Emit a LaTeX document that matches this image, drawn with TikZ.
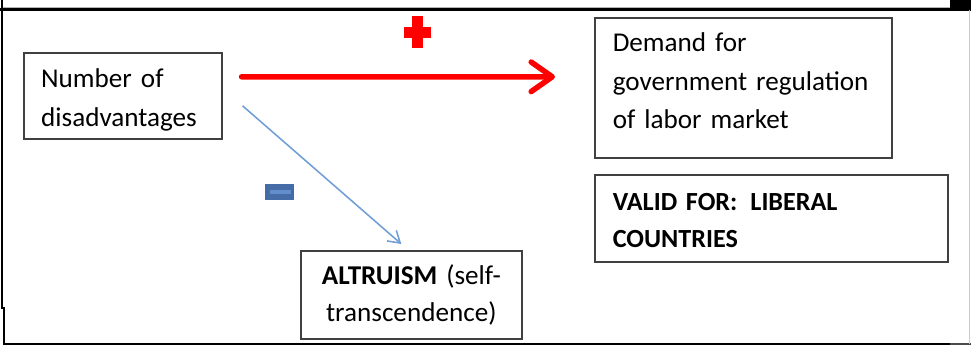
\documentclass[tikz,border=0pt]{standalone}
\usepackage{fontspec}
\setmainfont{Carlito}
\usetikzlibrary{arrows.meta, positioning, calc}
\definecolor{negblue}{RGB}{112,158,214}
\definecolor{minusdark}{RGB}{70,108,168}
\definecolor{minuslight}{RGB}{98,142,208}

\begin{document}
\begin{tikzpicture}[x=0.025cm, y=-0.025cm, font=\fontsize{19.3}{27.2}\selectfont,
  box/.style={draw=black!75, line width=1.1pt, inner ysep=0pt, anchor=north west},
  posarrow/.style={red, line width=3.9pt, line cap=round,
    -{Straight Barb[length=15pt, width=21pt, round]}},
  negarrow/.style={draw=negblue, line width=1.1pt,
    -{Straight Barb[length=8pt, width=10pt]}}]
  \useasboundingbox (0,0) rectangle (971,346);
  % outer frame
  \draw[black!30, line width=0.6pt] (3,7) -- (950,7);
  \fill (950,0) rectangle (971,9);
  \draw[line width=1.5pt] (0,9.5) -- (971,9.5);
  \draw[line width=1.8pt] (2,0) -- (2,308) -- (4,308) -- (4,344) -- (950,344);
  \draw[black!70, line width=0.8pt] (950,344) -- (971,344);
  \draw[black!20, line width=0.8pt] (969.5,10) -- (969.5,344);
  % boxes
  \node[box, minimum width=140.8pt, text height=24.9pt, text depth=36.3pt,
    text width=116pt, inner xsep=12.4pt, align=left] (num) at (23,52)
    {Number of\\disadvantages};
  \node[box, minimum width=211.3pt, text height=24.2pt, text depth=75.4pt,
    text width=185.7pt, inner xsep=12.8pt, align=left] (dem) at (594,17)
    {Demand for\\government regulation\\of labor market};
  \node[box, minimum width=251.1pt, text height=25.3pt, text depth=36.6pt,
    text width=225.5pt, inner xsep=12.8pt, align=left,
    font=\fontsize{18.6}{26.6}\selectfont\bfseries] (valid) at (594,174)
    {VALID FOR:\, LIBERAL\\COUNTRIES};
  \node[box, minimum width=157.2pt, text height=24.2pt, text depth=38.4pt,
    text width=135pt, inner xsep=11.1pt, align=center,
    font=\fontsize{19.3}{26}\selectfont] (alt) at (300,250)
    {\textbf{ALTRUISM} (self-\\transcendence)};
  % signs
  \fill[red] (412,16) rectangle (423,48);
  \fill[red] (404,27) rectangle (431,38);
  \fill[minusdark] (265,184) rectangle (294,200);
  \fill[minuslight] (270,190) rectangle (291,194);
  % connectors
  \draw[posarrow] ($(num.east)+(19,-19)$) -- ($(dem.west)+(-39,-11)$);
  \draw[negarrow] ($(num.east)+(20,10)$) -- ($(alt.north)+(-10,-6)$);
\end{tikzpicture}
\end{document}
